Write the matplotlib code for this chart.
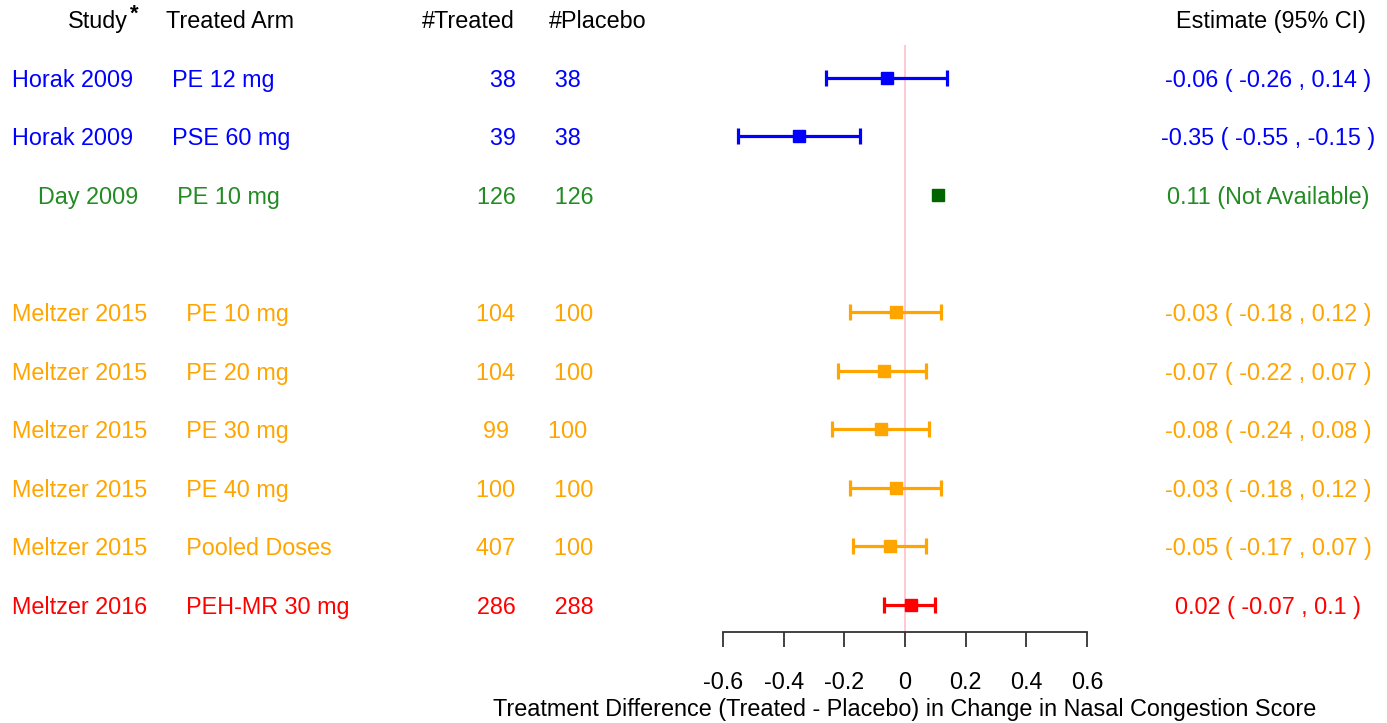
import numpy as np
import matplotlib
matplotlib.use("Agg")
import matplotlib.pyplot as plt
from matplotlib import transforms

plt.rcParams['font.family'] = ['Liberation Sans', 'DejaVu Sans']

studies = ["Horak 2009", "Horak 2009", "    Day 2009", "Meltzer 2015", "Meltzer 2015",
           "Meltzer 2015", "Meltzer 2015", "Meltzer 2015", "Meltzer 2016"]
arms = ["PE 12 mg", "PSE 60 mg", "PE 10 mg", "PE 10 mg", "PE 20 mg",
        "PE 30 mg", "PE 40 mg", "Pooled Doses", "PEH-MR 30 mg"]
n_treated = [38, 39, 126, 104, 104, 99, 100, 407, 286]
n_placebo = [38, 38, 126, 100, 100, 100, 100, 100, 288]
est = [-0.06, -0.35, 0.11, -0.03, -0.07, -0.08, -0.03, -0.05, 0.02]
lo = [-0.26, -0.55, np.nan, -0.18, -0.22, -0.24, -0.18, -0.17, -0.07]
hi = [0.14, -0.15, np.nan, 0.12, 0.07, 0.08, 0.12, 0.07, 0.1]
text_col = ["blue", "blue", "forestgreen", "orange", "orange", "orange", "orange", "orange", "red"]
mark_col = ["blue", "blue", "darkgreen", "orange", "orange", "orange", "orange", "orange", "red"]
xticks = [-0.6, -0.4, -0.2, 0, 0.2, 0.4, 0.6]
xlabel = "Treatment Difference (Treated - Placebo) in Change in Nasal Congestion Score"

W, H = 1387, 723
fig = plt.figure(figsize=(W / 100, H / 100), dpi=100)
ax = fig.add_axes([723 / W, (H - 632) / H, 364 / W, (632 - 45) / H])
ax.set_xlim(-0.6, 0.6)
ax.set_ylim(9.46, -0.56)

# rows: blank line between the first three studies and Meltzer
ypos = [i + (1 if i >= 3 else 0) for i in range(len(est))]

ax.axvline(0, color="pink", lw=1.2, zorder=0)

fs = 16.8
tr = transforms.blended_transform_factory(fig.transFigure, ax.transData)

for i, y in enumerate(ypos):
    c = text_col[i]
    if np.isnan(lo[i]):
        ax.plot(est[i], y, "s", color=mark_col[i], ms=8.5, clip_on=False)
        est_txt = f"{est[i]:g} (Not Available)"
    else:
        ax.errorbar(est[i], y, xerr=[[est[i] - lo[i]], [hi[i] - est[i]]], fmt="s",
                    color=mark_col[i], ms=8.5, capsize=5.5, elinewidth=2.3, capthick=2.3,
                    clip_on=False)
        est_txt = f"{est[i]:g} ( {lo[i]:g} , {hi[i]:g} )"
    ax.text(12 / W, y, f"{studies[i]}      {arms[i]}", transform=tr, ha="left",
            va="center_baseline", fontsize=fs, color=c)
    ax.text(535 / W, y, f"{n_treated[i]}      {n_placebo[i]}", transform=tr, ha="center",
            va="center_baseline", fontsize=fs, color=c)
    ax.text(1268 / W, y, est_txt, transform=tr, ha="center",
            va="center_baseline", fontsize=fs, color=c)

# header row
hy = -1
ax.text(128 / W, hy, "Study", transform=tr, ha="right", va="center_baseline", fontsize=fs)
ax.text(130 / W, hy - 0.12, "*", transform=tr, ha="left", va="center_baseline",
        fontsize=16, fontweight="bold")
ax.text(166 / W, hy, "Treated Arm", transform=tr, ha="left", va="center_baseline", fontsize=fs)
ax.text(515 / W, hy, "#Treated", transform=tr, ha="right", va="center_baseline", fontsize=fs)
ax.text(549 / W, hy, "#Placebo", transform=tr, ha="left", va="center_baseline", fontsize=fs)
ax.text(1271 / W, hy, "Estimate (95% CI)", transform=tr, ha="center",
        va="center_baseline", fontsize=fs)

for s in ["top", "left", "right"]:
    ax.spines[s].set_visible(False)
ax.spines["bottom"].set_color("#333333")
ax.spines["bottom"].set_linewidth(1.3)
ax.set_yticks([])
ax.set_xticks(xticks)
ax.set_xticklabels([f"{v:g}" for v in xticks], fontsize=fs)
ax.tick_params(axis="x", direction="out", length=11, width=1.3, color="#333333", pad=17)
ax.set_xlabel(xlabel, fontsize=fs, labelpad=3)

fig.savefig("out.png", dpi=100)
